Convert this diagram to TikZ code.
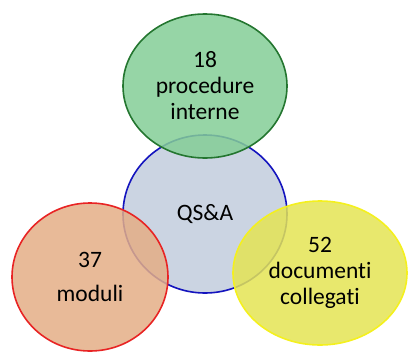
\documentclass[tikz,border=0pt]{standalone}
\usepackage{fontspec}
\setmainfont[Ligatures=NoCommon]{Carlito}
\usetikzlibrary{shapes.geometric}

\definecolor{qsafill}{RGB}{203,212,226}
\definecolor{qsaline}{RGB}{20,20,190}
\definecolor{procfill}{RGB}{132,206,150}
\definecolor{procline}{RGB}{36,118,48}
\definecolor{modfill}{RGB}{228,174,134}
\definecolor{modline}{RGB}{232,36,36}
\definecolor{docfill}{RGB}{228,228,84}
\definecolor{docline}{RGB}{244,240,30}

\begin{document}
\begin{tikzpicture}[x=1pt, y=-1pt,
    bubble/.style={ellipse, draw, line width=1.6pt, inner sep=0pt,
        fill opacity=0.85, text opacity=1, align=center,
        font=\fontsize{23.5}{26}\selectfont}]

    \useasboundingbox (0,0) rectangle (409,351);
    \node[bubble, fill=qsafill, draw=qsaline, fill opacity=1,
        minimum width=164pt, minimum height=158pt] (qsa) at (205,214) {QS\&A};
    \node[bubble, fill=procfill, draw=procline,
        minimum width=164pt, minimum height=144pt] (proc) at (205,86)
        {18\\procedure\\interne};
    \node[bubble, fill=modfill, draw=modline,
        minimum width=156pt, minimum height=148pt] (mod) at (90,277)
        {37\\[8pt]moduli};
    \node[bubble, fill=docfill, draw=docline,
        minimum width=174pt, minimum height=144pt] (doc) at (320,273)
        {52\\documenti\\collegati};
\end{tikzpicture}
\end{document}
